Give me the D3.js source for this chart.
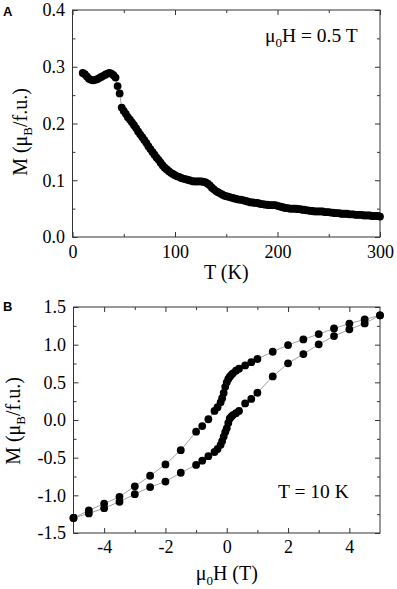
<!DOCTYPE html>
<html>
<head>
<meta charset="utf-8">
<script src="https://cdn.jsdelivr.net/npm/d3@7"></script>
<style>
  body { margin: 0; background: #fff; }
  svg { display: block; }
  .tick text { font-family: "Liberation Serif", serif; font-size: 18px; fill: #000; }
  .label { font-family: "Liberation Serif", serif; font-size: 20px; fill: #000; }
  .note { font-family: "Liberation Serif", serif; font-size: 19.5px; fill: #000; }
  .panel { font-family: "Liberation Sans", Arial, sans-serif; font-size: 13px; font-weight: bold; }
</style>
</head>
<body>
<div id="chart"></div>
<script>
// ---- panel A: M(T) at 0.5 T ----
const tempK = [10, 12, 14, 16, 18, 20, 22, 24, 26, 28, 30, 32, 34, 36, 38, 40, 42, 44, 46, 48,
  50, 52, 54, 56, 58, 60, 62, 64, 66, 68, 70, 72, 74, 76, 78, 80, 82, 84, 86, 88,
  90, 92, 94, 96, 98, 100, 102, 104, 106, 108, 110, 112, 114, 116, 118, 120, 122, 124, 126, 128,
  130, 132, 134, 136, 138, 140, 142, 144, 146, 148, 150, 152, 154, 156, 158, 160, 162, 164, 166, 168,
  170, 172, 174, 176, 178, 180, 182, 184, 186, 188, 190, 192, 194, 196, 198, 200, 202, 204, 206, 208,
  210, 212, 214, 216, 218, 220, 222, 224, 226, 228, 230, 232, 234, 236, 238, 240, 242, 244, 246, 248,
  250, 252, 254, 256, 258, 260, 262, 264, 266, 268, 270, 272, 274, 276, 278, 280, 282, 284, 286, 288,
  290, 292, 294, 296, 298, 300];
const momentT = [0.289, 0.287, 0.283, 0.279, 0.277, 0.276, 0.277, 0.278, 0.280, 0.282, 0.284, 0.286, 0.288, 0.289, 0.288, 0.285, 0.281, 0.266, 0.253, 0.228,
  0.222, 0.217, 0.211, 0.207, 0.202, 0.197, 0.192, 0.186, 0.181, 0.176, 0.171, 0.166, 0.160, 0.155, 0.150, 0.145, 0.140, 0.136, 0.131, 0.126,
  0.122, 0.119, 0.116, 0.113, 0.111, 0.109, 0.107, 0.106, 0.104, 0.103, 0.102, 0.101, 0.100, 0.099, 0.098, 0.098, 0.098, 0.098, 0.098, 0.097,
  0.096, 0.094, 0.091, 0.087, 0.084, 0.081, 0.079, 0.077, 0.075, 0.073, 0.072, 0.071, 0.070, 0.069, 0.068, 0.067, 0.066, 0.066, 0.065, 0.064,
  0.063, 0.062, 0.061, 0.061, 0.060, 0.060, 0.059, 0.058, 0.058, 0.057, 0.057, 0.056, 0.056, 0.056, 0.056, 0.055, 0.054, 0.053, 0.052, 0.051,
  0.051, 0.050, 0.050, 0.050, 0.050, 0.049, 0.049, 0.048, 0.048, 0.047, 0.047, 0.046, 0.046, 0.045, 0.045, 0.045, 0.045, 0.045, 0.044, 0.044,
  0.044, 0.043, 0.043, 0.042, 0.042, 0.042, 0.041, 0.041, 0.041, 0.041, 0.040, 0.040, 0.040, 0.039, 0.039, 0.039, 0.039, 0.038, 0.038, 0.038,
  0.038, 0.037, 0.037, 0.037, 0.037, 0.036];
const ticksTA = [0, 100, 200, 300];
const ticksMA = [0.0, 0.1, 0.2, 0.3, 0.4];

// ---- panel B: M(H) loop at 10 K ----
const fieldDown = [5, 4.5, 4, 3.5, 3, 2.5, 2, 1.5, 1, 0.8, 0.6, 0.4, 0.3, 0.2, 0.15, 0.1, 0.05, 0, -0.05, -0.1, -0.15, -0.2, -0.3, -0.4, -0.6, -0.8, -1, -1.5, -2, -2.5, -3, -3.5, -4, -4.5, -5];
const momentDown = [1.39, 1.335, 1.28, 1.215, 1.14, 1.07, 0.995, 0.906, 0.81, 0.768, 0.725, 0.68, 0.655, 0.62, 0.6, 0.575, 0.545, 0.50, 0.44, 0.36, 0.29, 0.235, 0.17, 0.12, 0.01, -0.08, -0.155, -0.40, -0.59, -0.74, -0.88, -1.02, -1.11, -1.20, -1.30];
const fieldUp = [-5, -4.5, -4, -3.5, -3, -2.5, -2, -1.5, -1, -0.8, -0.6, -0.4, -0.3, -0.2, -0.15, -0.1, -0.05, 0, 0.05, 0.1, 0.15, 0.2, 0.3, 0.4, 0.6, 0.8, 1, 1.5, 2, 2.5, 3, 3.5, 4, 4.5, 5];
const momentUp = [-1.30, -1.24, -1.17, -1.085, -0.985, -0.89, -0.818, -0.70, -0.597, -0.54, -0.48, -0.425, -0.385, -0.33, -0.28, -0.22, -0.16, -0.11, -0.04, 0.02, 0.045, 0.066, 0.09, 0.12, 0.22, 0.28, 0.362, 0.578, 0.752, 0.875, 1.004, 1.114, 1.203, 1.282, 1.39];
const ticksHB = [-4, -2, 0, 2, 4];
const ticksMB = [-1.5, -1.0, -0.5, 0.0, 0.5, 1.0, 1.5];

const width = 397, height = 589;
const svg = d3.select("#chart").append("svg")
  .attr("width", width).attr("height", height);

function frame(x, y, xMajor, xMinor, yMajor, yMinor, xFmt, yFmt, xPad) {
  const [x0, x1] = x.range();
  const [y0, y1] = y.range();
  const g = svg.append("g");
  // bottom axis with labels
  g.append("g").attr("transform", `translate(0,${y0})`)
    .call(d3.axisBottom(x).tickValues(xMajor).tickSizeInner(-5).tickSizeOuter(0).tickPadding(xPad).tickFormat(xFmt));
  g.append("g").attr("transform", `translate(0,${y0})`)
    .call(d3.axisBottom(x).tickValues(xMinor).tickSizeInner(-3).tickSizeOuter(0).tickFormat(""));
  // top
  g.append("g").attr("transform", `translate(0,${y1})`)
    .call(d3.axisTop(x).tickValues(xMajor).tickSizeInner(-5).tickSizeOuter(0).tickFormat(""));
  g.append("g").attr("transform", `translate(0,${y1})`)
    .call(d3.axisTop(x).tickValues(xMinor).tickSizeInner(-3).tickSizeOuter(0).tickFormat(""));
  // left with labels
  g.append("g").attr("transform", `translate(${x0},0)`)
    .call(d3.axisLeft(y).tickValues(yMajor).tickSizeInner(-5).tickSizeOuter(0).tickPadding(7.5).tickFormat(yFmt));
  g.append("g").attr("transform", `translate(${x0},0)`)
    .call(d3.axisLeft(y).tickValues(yMinor).tickSizeInner(-3).tickSizeOuter(0).tickFormat(""));
  // right
  g.append("g").attr("transform", `translate(${x1},0)`)
    .call(d3.axisRight(y).tickValues(yMajor).tickSizeInner(-5).tickSizeOuter(0).tickFormat(""));
  g.append("g").attr("transform", `translate(${x1},0)`)
    .call(d3.axisRight(y).tickValues(yMinor).tickSizeInner(-3).tickSizeOuter(0).tickFormat(""));
  g.selectAll(".domain").remove();
  g.selectAll(".tick line").attr("stroke", "#333");
  // box
  g.append("rect")
    .attr("x", x0).attr("y", y1)
    .attr("width", x1 - x0).attr("height", y0 - y1)
    .attr("fill", "none").attr("stroke", "#333").attr("stroke-width", 1);
}

function series(x, y, xs, ys) {
  const pts = xs.map((v, i) => [v, ys[i]]);
  svg.append("path")
    .datum(pts)
    .attr("fill", "none")
    .attr("stroke", "#8a8a8a")
    .attr("stroke-width", 0.8)
    .attr("d", d3.line().x(d => x(d[0])).y(d => y(d[1])));
  svg.append("g").selectAll("circle")
    .data(pts)
    .join("circle")
    .attr("cx", d => x(d[0]))
    .attr("cy", d => y(d[1]))
    .attr("r", 3.9)
    .attr("fill", "#000");
}

function yLabel(xPos, yMid) {
  const t = svg.append("text").attr("class", "label")
    .attr("text-anchor", "middle")
    .attr("transform", `translate(${xPos},${yMid}) rotate(-90)`);
  t.append("tspan").text("M (\u03bc");
  t.append("tspan").attr("dy", 5).attr("font-size", 13).text("B");
  t.append("tspan").attr("dy", -5).text("/f.u.)");
}

// mu-zero-H text with subscript
function muH(sel, rest) {
  sel.append("tspan").text("\u03bc");
  sel.append("tspan").attr("dy", 5).attr("font-size", 13).text("0");
  sel.append("tspan").attr("dy", -5).text(rest);
}

// ---------- panel A ----------
const xA = d3.scaleLinear().domain([0, 300]).range([72.5, 380]);
const yA = d3.scaleLinear().domain([0, 0.4]).range([237, 10]);
frame(xA, yA, ticksTA, [50, 150, 250],
  ticksMA, [0.05, 0.15, 0.25, 0.35],
  d => String(d), d => d.toFixed(1), 8);
series(xA, yA, tempK, momentT);

svg.append("text").attr("class", "label")
  .attr("x", (xA(0) + xA(300)) / 2).attr("y", 279)
  .attr("text-anchor", "middle").text("T (K)");
yLabel(27, 132);

muH(svg.append("text").attr("class", "note").attr("x", 265).attr("y", 42), "H = 0.5 T");

svg.append("text").attr("class", "panel").attr("x", 3).attr("y", 16).text("A");

// ---------- panel B ----------
const xB = d3.scaleLinear().domain([-5, 5]).range([73.5, 380]);
const yB = d3.scaleLinear().domain([-1.5, 1.5]).range([533, 307]);
frame(xB, yB, ticksHB, [-3, -1, 1, 3],
  ticksMB, [-1.25, -0.75, -0.25, 0.25, 0.75, 1.25],
  d => String(d), d => d.toFixed(1), 7.5);
series(xB, yB, fieldDown, momentDown);
series(xB, yB, fieldUp, momentUp);

muH(svg.append("text").attr("class", "label")
  .attr("x", (xB(-5) + xB(5)) / 2).attr("y", 580).attr("text-anchor", "middle"), "H (T)");
yLabel(20, 421);

svg.append("text").attr("class", "note").attr("x", 278).attr("y", 498).text("T = 10 K");

svg.append("text").attr("class", "panel").attr("x", 3).attr("y", 311).text("B");
</script>
</body>
</html>
